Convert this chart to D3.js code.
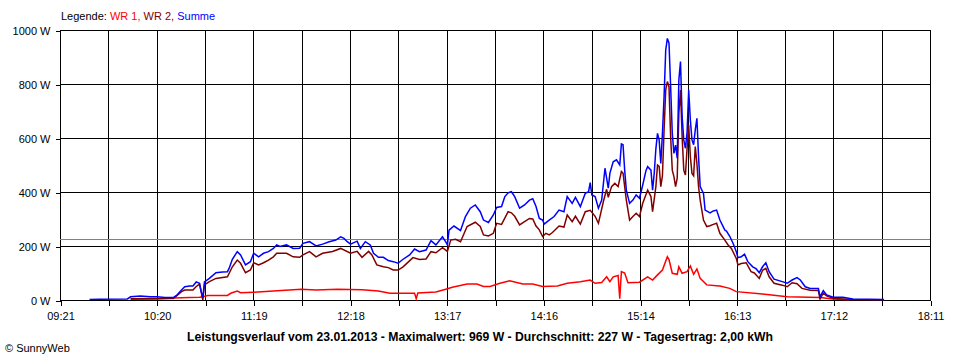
<!DOCTYPE html>
<html><head><meta charset="utf-8">
<script src="https://cdn.jsdelivr.net/npm/d3@7"></script>
<style>
body{margin:0;background:#fff}
svg{display:block}
text{font-family:"Liberation Sans",Arial,sans-serif;font-size:11px;fill:#000}
</style>
</head><body>
<svg id="chart" width="960" height="360"></svg>
<script>
// ---- data (times in minutes after midnight) ----
const timeStart = 561;   // 09:21
const timeEnd = 1091;    // 18:11
const xTickLabels = ["09:21","10:20","11:19","12:18","13:17","14:16","15:14","16:13","17:12","18:11"];
const yTickValues = [0,200,400,600,800,1000];
const averageW = 227;
const titleText = "Leistungsverlauf vom 23.01.2013 - Maximalwert: 969 W - Durchschnitt: 227 W - Tagesertrag: 2,00 kWh";
const seriesNames = ["WR 1","WR 2","Summe"];
const seriesColors = ["#ff0000","#800000","#0000ff"];

const wr1Time = [604,620,630,640,646,648,651,663,665,669,671,679,691,708,717,730,745,755,762,777,778,779,790,796,800,809,815,819,823,829,835,843,849,855,864,870,878,884,887,891,894,896,898,901,902,903,905,907,914,919,922,925,928,931,932,934,937,938,940,943,945,947,949,951,955,961,963,969,973,989,1004,1024,1032,1042];
const wr1W    = [3,4,7,9,10,12,17,17,25,33,27,29,33,40,37,40,38,33,25,25,5,26,30,40,47,59,59,50,50,62,71,59,59,50,52,62,68,74,62,65,86,68,86,91,5,105,100,64,66,86,74,93,111,160,150,99,95,123,99,105,126,95,115,80,56,53,52,43,31,22,12,9,4,1];

const wr2Time = [604,620,630,632,635,637,642,644,646,647,648,649,652,656,663,666,669,671,674,677,679,682,685,688,691,693,699,703,707,709,713,717,721,727,732,738,742,745,749,751,754,758,761,764,767,770,776,780,784,787,790,794,796,797,799,802,805,809,814,817,819,822,825,827,830,834,836,838,841,844,847,849,851,853,855,857,859,861,865,868,870,873,875,878,881,884,887,889,892,894,895,897,899,901,903,904,906,908,910,912,914,916,919,921,922,924,925,926,927,928,929,930,931,932,933,934,935,936,937,938,939,940,941,942,943,944,945,946,947,948,949,950,951,953,955,957,959,961,963,966,968,970,973,974,976,979,982,984,987,989,991,993,996,1001,1004,1007,1010,1013,1018,1023,1024,1026,1028,1032,1044,1063];
const wr2W    = [5,6,6,15,31,37,37,50,59,31,0,56,68,80,86,123,148,136,101,111,138,130,138,148,160,173,173,160,158,167,179,160,173,180,191,173,180,158,180,167,130,123,120,111,111,123,157,150,152,179,175,194,185,180,222,225,216,272,288,272,241,237,247,284,280,327,323,310,278,290,302,300,274,260,235,247,241,250,274,270,315,290,310,281,327,332,310,284,364,410,380,420,432,420,476,470,370,296,309,321,309,358,407,383,327,420,500,495,420,460,630,778,809,790,605,481,457,420,451,691,778,605,481,463,560,648,531,469,460,568,506,420,370,296,272,275,280,284,247,222,204,191,154,130,135,138,105,100,80,110,117,86,62,55,49,64,60,43,36,35,3,25,15,6,2,1];

const sumTime = [579,585,602,604,610,616,620,625,630,632,635,637,640,642,644,646,647,648,649,652,656,660,663,664,666,669,671,674,677,679,682,685,688,691,693,695,699,703,707,709,713,717,721,725,729,732,734,736,738,742,744,747,750,752,755,758,761,764,767,770,774,777,780,784,787,790,794,796,797,798,801,805,808,811,814,817,819,822,825,827,830,832,834,836,838,841,844,847,849,851,853,855,856,859,862,865,868,870,873,875,878,881,883,884,885,887,889,891,893,895,896,898,900,902,903,904,905,906,908,910,912,914,916,918,919,921,922,923,924,925,926,927,928,929,930,931,932,933,934,935,936,937,938,939,940,941,942,943,944,945,946,947,948,949,950,951,953,954,957,959,961,963,965,966,967,969,971,973,974,976,978,980,983,985,987,989,991,993,996,1001,1004,1007,1010,1012,1015,1018,1023,1024,1026,1028,1032,1038,1044,1063];
const sumW    = [2,3,4,12,15,12,12,9,9,17,37,49,52,52,67,62,31,8,67,80,101,104,105,117,151,179,167,130,142,173,160,173,179,191,204,198,204,191,192,210,216,200,207,216,222,234,228,216,207,218,191,216,204,173,158,158,146,142,136,151,167,189,179,185,220,204,234,215,204,259,274,257,309,340,352,327,296,287,315,343,346,383,397,401,383,340,352,370,375,346,302,296,281,296,309,333,327,383,358,380,346,395,401,435,389,383,340,370,488,414,470,512,519,500,578,575,481,407,358,370,389,377,426,480,494,481,407,469,560,617,593,506,617,753,926,969,951,790,617,543,574,525,815,883,679,593,562,620,778,667,593,575,630,673,531,420,395,333,323,330,333,296,272,259,255,236,210,179,157,160,170,142,123,116,101,123,138,105,77,68,62,74,83,74,49,43,43,12,35,19,10,10,4,2];

// ---- chart ----
const svg = d3.select("#chart");
const W = 960, H = 360;
svg.append("rect").attr("width",W).attr("height",H).attr("fill","#fff");

const x = d3.scaleLinear().domain([timeStart,timeEnd]).range([60,930]);
const y = d3.scaleLinear().domain([0,1000]).range([300,30]);

const nTicks = (xTickLabels.length-1)*2;
const xTicks = d3.range(nTicks+1).map(i => timeStart + i*(timeEnd-timeStart)/nTicks);

// grid
const grid = svg.append("g").attr("shape-rendering","crispEdges").attr("stroke","#000").attr("stroke-width",1);
grid.selectAll("line.v").data(xTicks).join("line")
  .attr("x1",d=>Math.round(x(d))+0.5).attr("x2",d=>Math.round(x(d))+0.5)
  .attr("y1",y(1000)).attr("y2",y(0));
grid.selectAll("line.h").data(yTickValues).join("line")
  .attr("x1",x(timeStart)).attr("x2",x(timeEnd)+1)
  .attr("y1",d=>Math.round(y(d))+0.5).attr("y2",d=>Math.round(y(d))+0.5);

// axes
const xAxis = d3.axisBottom(x).tickValues(xTicks).tickSize(5).tickPadding(7)
  .tickFormat((d,i)=> i%2===0 ? xTickLabels[i/2] : "");
const gx = svg.append("g").attr("transform","translate(0.5,300.5)").call(xAxis);
const yAxis = d3.axisLeft(y).tickValues(yTickValues).tickSize(5).tickPadding(5)
  .tickFormat(d=> d+" W");
const gy = svg.append("g").attr("transform","translate(60.5,0.5)").call(yAxis);
[gx,gy].forEach(g=>{
  g.select(".domain").remove();
  g.selectAll(".tick line").attr("stroke","#000").attr("shape-rendering","crispEdges");
  g.selectAll("text").attr("font-family",null).attr("font-size",null).attr("fill","#000");
});
gy.selectAll(".tick text").attr("dy","0.35em");

// average line
svg.append("line").attr("shape-rendering","crispEdges")
  .attr("x1",x(timeStart)).attr("x2",x(timeEnd))
  .attr("y1",Math.round(y(averageW))+0.5).attr("y2",Math.round(y(averageW))+0.5)
  .attr("stroke","#808080").attr("stroke-width",1);

// series lines
const series = [
  {t:wr1Time, v:wr1W, c:seriesColors[0]},
  {t:wr2Time, v:wr2W, c:seriesColors[1]},
  {t:sumTime, v:sumW, c:seriesColors[2]}
];
const line = d3.line().x(d=>x(d[0])).y(d=>y(d[1]));
series.forEach(s=>{
  svg.append("path").datum(s.t.map((t,i)=>[t,s.v[i]]))
    .attr("d",line).attr("fill","none").attr("stroke",s.c)
    .attr("stroke-width",1.5).attr("stroke-linejoin","miter");
});

// legend
const leg = svg.append("text").attr("x",61).attr("y",20);
leg.append("tspan").text("Legende: ");
seriesNames.forEach((n,i)=>{
  leg.append("tspan").attr("fill",seriesColors[i]).text(n + (i<seriesNames.length-1 ? ", " : ""));
});

// title
svg.append("text").attr("x",187).attr("y",341)
  .attr("font-weight","bold").style("font-size","12px")
  .attr("textLength",586).attr("lengthAdjust","spacingAndGlyphs").text(titleText);

// footer
svg.append("text").attr("x",5).attr("y",352).text("© SunnyWeb");
</script>
</body></html>
